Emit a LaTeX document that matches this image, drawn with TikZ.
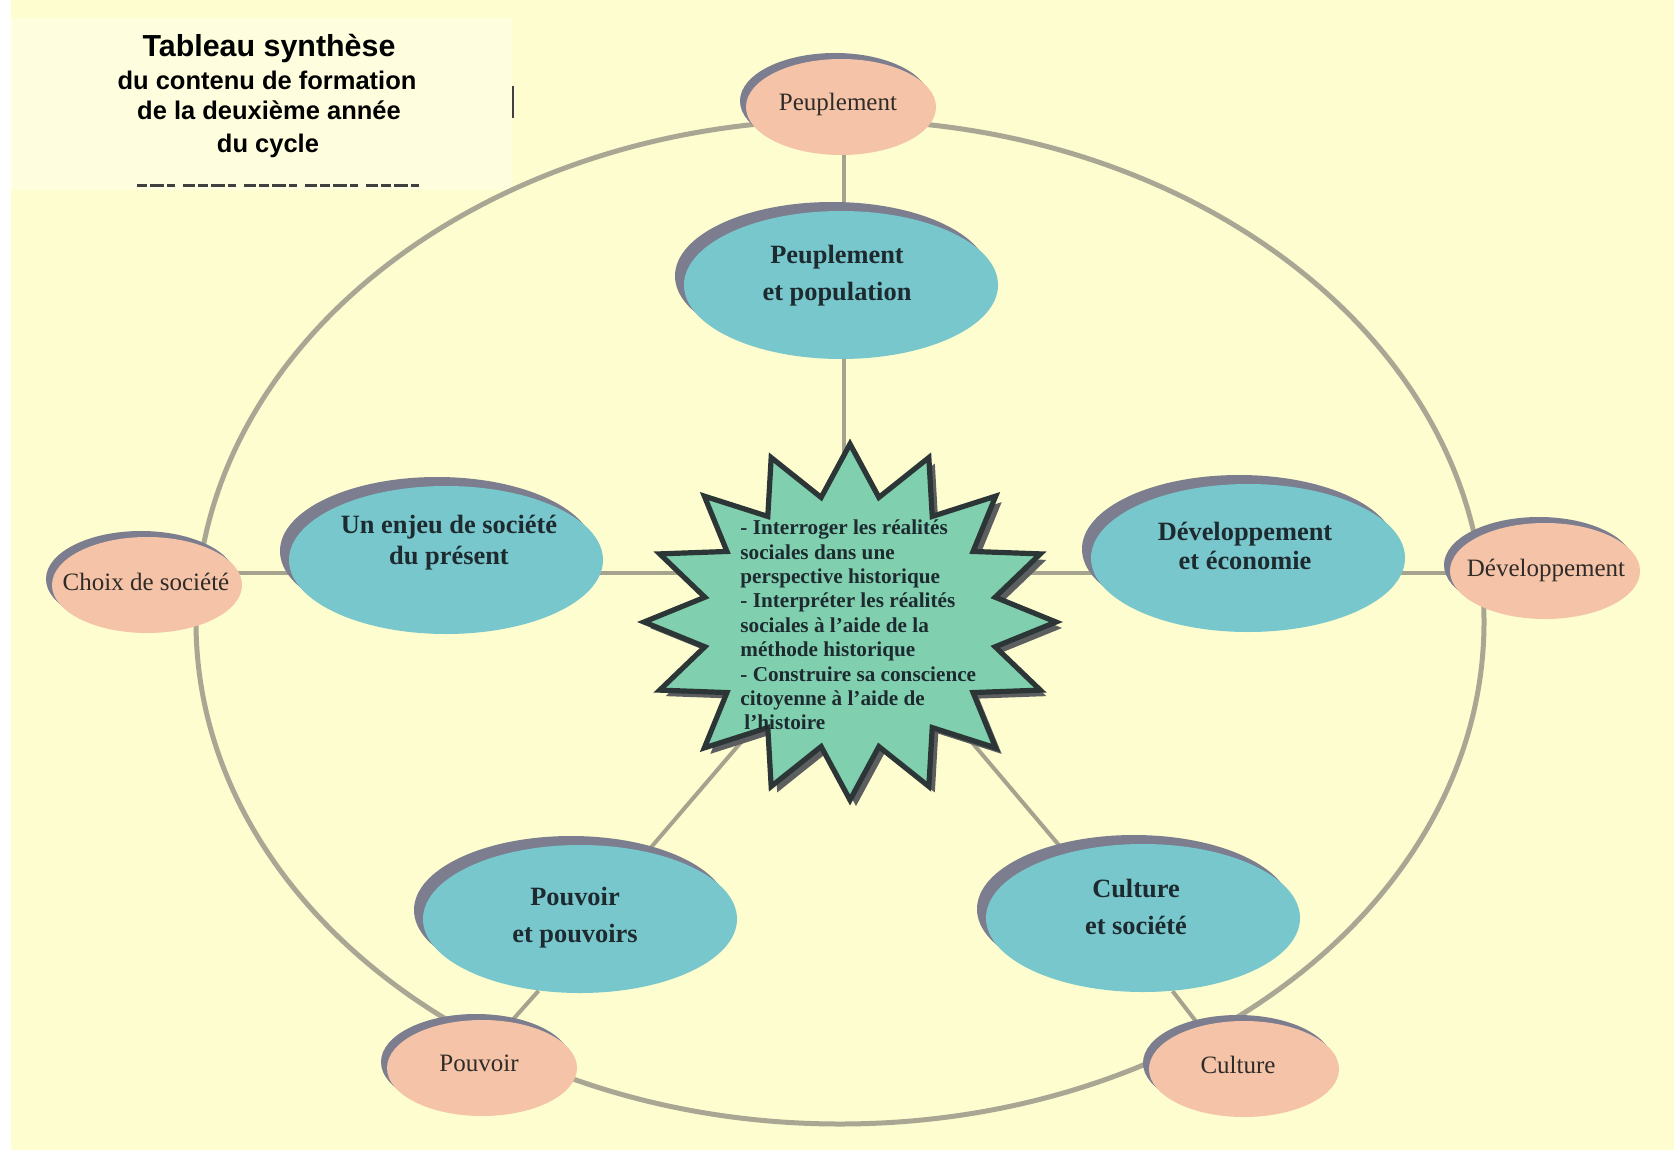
\documentclass[tikz,border=0pt]{standalone}
\usepackage{fontspec}
\setmainfont{Liberation Serif}
\newfontfamily\headfont{Liberation Sans}
\usetikzlibrary{shapes.geometric,shadows}

\definecolor{paper}{HTML}{FDFDD0}
\definecolor{titlepaper}{HTML}{FEFEDF}
\definecolor{ringgray}{HTML}{A9A794}
\definecolor{linkgray}{HTML}{A5A38E}
\definecolor{shadowgray}{HTML}{7C7D8E}
\definecolor{themeblue}{HTML}{78C7CC}
\definecolor{facetpeach}{HTML}{F4C3A8}
\definecolor{corefill}{HTML}{80CFAE}
\definecolor{coreedge}{HTML}{2C3636}
\definecolor{coreshade}{HTML}{5C5E60}
\definecolor{themetext}{HTML}{1D2B30}
\definecolor{facettext}{HTML}{2F2B28}

\pgfdeclarelayer{backdrop}
\pgfdeclarelayer{background}
\pgfsetlayers{backdrop,background,main}

\begin{document}
\begin{tikzpicture}[x=0.5pt, y=-0.5pt,
  ring/.style={draw=ringgray, line width=2.5pt},
  link/.style={draw=linkgray, line width=2pt},
  theme/.style={ellipse, fill=themeblue, minimum width=157pt, minimum height=74pt,
    inner sep=0pt, general shadow={fill=shadowgray, shadow xshift=-4.5pt, shadow yshift=4.5pt}},
  facet/.style={ellipse, fill=facetpeach, minimum width=95pt, minimum height=48pt,
    inner sep=0pt, general shadow={fill=shadowgray, shadow xshift=-3pt, shadow yshift=3pt}},
  facetlabel/.style={inner sep=0pt, text=facettext, font=\fontsize{12.5}{14}\selectfont},
  themelabel/.style={align=center, inner sep=0pt, text=themetext},
  headline/.style={inner sep=0pt, text=black},
  coretext/.style={align=left, inner sep=0pt, text=themetext,
    font=\bfseries\fontsize{10.6}{12.2}\selectfont},
  tick/.style={draw=black!75, line width=1pt}
]
\path[use as bounding box] (0,0) rectangle (1674,1156);

% paper, title panel and page edges
\begin{pgfonlayer}{backdrop}
  \fill[paper] (0,0) rectangle (1674,1156);
  \fill[white] (0,0) rectangle (11,1156);
  \fill[white] (0,1150) rectangle (1674,1156);
  \fill[titlepaper] (11,18) rectangle (512,190);
\end{pgfonlayer}

% title
\node[headline, font=\headfont\bfseries\fontsize{15.2}{18}\selectfont] (t1) at (269,49) {Tableau synthèse};
\node[headline, font=\headfont\bfseries\fontsize{12.75}{15}\selectfont] (t2) at (267,80) {du contenu de formation};
\node[headline, font=\headfont\bfseries\fontsize{12.75}{15}\selectfont] (t3) at (269,110) {de la deuxième année};
\node[headline, font=\headfont\bfseries\fontsize{12.75}{15}\selectfont] (t4) at (268,146) {du cycle};
\draw[tick] (513,86) -- (513,118);
\draw[draw=black!75, line width=1.5pt, dash pattern=on 5pt off 1.5pt on 7pt off 1.5pt on 4pt off 4pt on 6pt off 1.5pt]
  (137,185) -- (422,185);

% outer facets
\node[facet] (fpe) at (841,107) {};
\node[facet] (fch) at (147,585) {};
\node[facet] (fde) at (1545,571) {};
\node[facet] (fpo) at (482,1068) {};
\node[facet] (fcu) at (1244,1069) {};

\node[facetlabel] (lfpe) at (838,104) {Peuplement};
\node[facetlabel] (lfch) at (146,582) {Choix de société};
\node[facetlabel] (lfde) at (1546,570) {Développement};
\node[facetlabel] (lfpo) at (479,1063) {Pouvoir};
\node[facetlabel] (lfcu) at (1238,1065) {Culture};

% themes
\node[theme] (tpe) at (841,285) {};
\node[theme] (ten) at (446,560) {};
\node[theme] (tde) at (1248,558) {};
\node[theme] (tpo) at (580,919) {};
\node[theme] (tcu) at (1143,918) {};

\node[themelabel, font=\bfseries\fontsize{13.2}{18.5}\selectfont] (lpe) at (837,276) {Peuplement\\et population};
\node[themelabel, font=\bfseries\fontsize{13.2}{15.5}\selectfont] (len) at (449,543) {Un enjeu de société\\du présent};
\node[themelabel, font=\bfseries\fontsize{13.2}{14.8}\selectfont] (lde) at (1245,546) {Développement\\et économie};
\node[themelabel, font=\bfseries\fontsize{13.2}{18.5}\selectfont] (lpo) at (575,918) {Pouvoir\\et pouvoirs};
\node[themelabel, font=\bfseries\fontsize{13.2}{18.5}\selectfont] (lcu) at (1136,907) {Culture\\et société};

% central sixteen-point star with its shadow
\fill[coreshade] plot[variable=\k, samples at={0,...,31}]
  ({856+(177+29*cos(\k*180))*cos(\k*11.25-90)}, {628+(152.5+25.5*cos(\k*180))*sin(\k*11.25-90)}) -- cycle;
\filldraw[fill=corefill, draw=coreedge, line width=2.6pt, line join=miter] plot[variable=\k, samples at={0,...,31}]
  ({850+(177+29*cos(\k*180))*cos(\k*11.25-90)}, {622+(152.5+25.5*cos(\k*180))*sin(\k*11.25-90)}) -- cycle;

\node[coretext, anchor=west] (core) at (740,625) {- Interroger les réalités\\
sociales dans une\\
perspective historique\\
- Interpréter les réalités\\
sociales à l’aide de la\\
méthode historique\\
- Construire sa conscience\\
citoyenne à l’aide de\\
\hspace*{2pt}l’histoire};

% hubs inside the star where the spokes meet
\coordinate (hub) at (844,622);
\coordinate (hubR) at (870,622);
\coordinate (axis) at (848,573);

% ring and spokes
\begin{pgfonlayer}{background}
  \draw[ring] (840,622) ellipse [x radius=644, y radius=502];
  \draw[link] (hub |- fpe.center) -- (hub);
  \draw[link] (fch.center |- axis) -- (fde.center |- axis);
  \draw[link] (tpo.45) -- (hub);
  \draw[link] (tcu.140) -- (hubR);
  \draw[link] (tpo.240) -- (fpo.58);
  \draw[link] (tcu.292) -- (fcu.136);
\end{pgfonlayer}
\end{tikzpicture}
\end{document}
